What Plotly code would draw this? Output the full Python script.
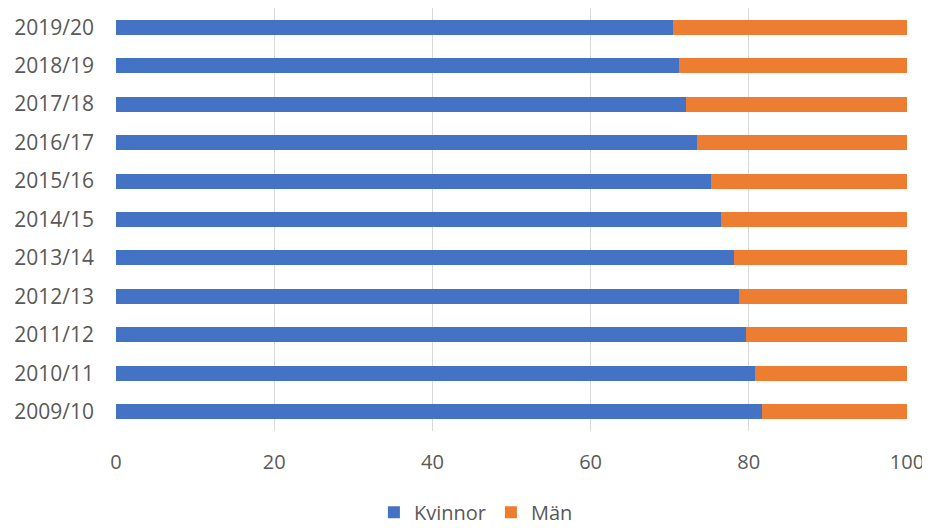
import plotly.graph_objects as go

years = ["2009/10", "2010/11", "2011/12", "2012/13", "2013/14", "2014/15",
         "2015/16", "2016/17", "2017/18", "2018/19", "2019/20"]
kvinnor = [81.7, 80.8, 79.7, 78.8, 78.1, 76.5, 75.2, 73.4, 72.0, 71.2, 70.4]
man = [18.3, 19.2, 20.3, 21.2, 21.9, 23.5, 24.8, 26.6, 28.0, 28.8, 29.6]
x_ticks = [0, 20, 40, 60, 80, 100]

FONT = "Open Sans"
GREY = "#595959"

fig = go.Figure()
fig.add_trace(go.Bar(y=years, x=kvinnor, name="Kvinnor", orientation="h",
                     marker=dict(color="#4472C4", line=dict(width=0))))
fig.add_trace(go.Bar(y=years, x=man, name="Män", orientation="h",
                     marker=dict(color="#ED7D31", line=dict(width=0))))

fig.update_layout(
    width=930, height=528,
    barmode="stack", bargap=0.61,
    margin=dict(l=108, r=31, t=0, b=105, autoexpand=False),
    paper_bgcolor="white", plot_bgcolor="white",
    font=dict(family=FONT, size=20, color=GREY),
    showlegend=True,
    legend=dict(orientation="h", x=0.455, xanchor="center",
                yref="container", y=0.045, yanchor="middle",
                font=dict(family=FONT, size=20, color=GREY),
                traceorder="normal"),
    xaxis=dict(range=[0, 100], tickvals=x_ticks, ticktext=[str(v) for v in x_ticks],
               showgrid=True, gridcolor="#d9d9d9", gridwidth=1, zeroline=False,
               showline=False, ticks="", ticklabelstandoff=17,
               tickfont=dict(family=FONT, size=20, color=GREY)),
    yaxis=dict(categoryorder="array", categoryarray=years, showgrid=False,
               zeroline=False, showline=False, ticks="", ticklabelstandoff=21,
               tickfont=dict(family=FONT, size=21, color=GREY)),
)

fig.write_html("out.html")
